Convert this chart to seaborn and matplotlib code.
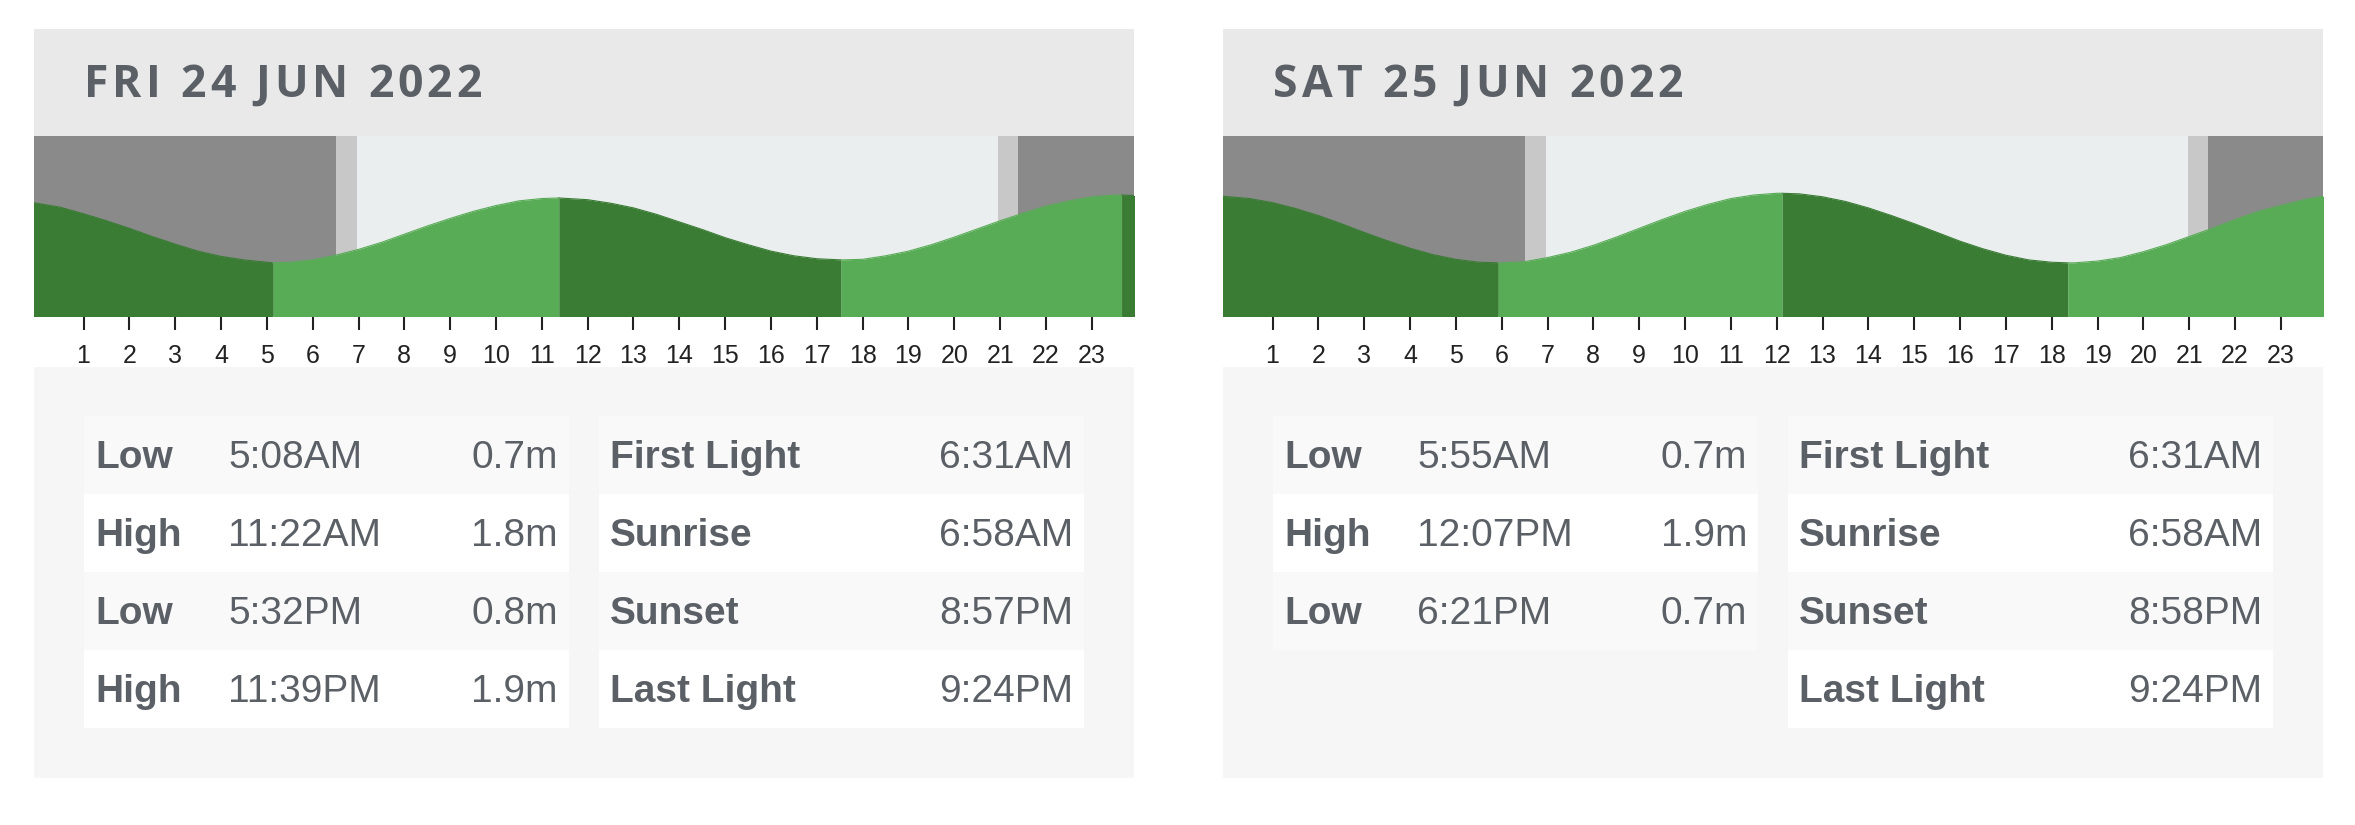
import numpy as np
import pandas as pd
import matplotlib
matplotlib.use("Agg")
import matplotlib.pyplot as plt
from matplotlib.patches import Rectangle
import seaborn as sns

# --- data ---
dates = ["FRI 24 JUN 2022", "SAT 25 JUN 2022"]

tide_type1 = ["Low", "High", "Low", "High"]
tide_time1 = ["5:08AM", "11:22AM", "5:32PM", "11:39PM"]
tide_height1 = ["0.7m", "1.8m", "0.8m", "1.9m"]
tide_type2 = ["Low", "High", "Low"]
tide_time2 = ["5:55AM", "12:07PM", "6:21PM"]
tide_height2 = ["0.7m", "1.9m", "0.7m"]

sun_labels = ["First Light", "Sunrise", "Sunset", "Last Light"]
sun_time1 = ["6:31AM", "6:58AM", "8:57PM", "9:24PM"]
sun_time2 = ["6:31AM", "6:58AM", "8:58PM", "9:24PM"]

# tide level (m), every half hour plus the turning points
curve_hours1 = [-0.1, 0.5, 1, 1.5, 2, 2.5, 3, 3.5, 4, 4.5, 5, 5.13,
                5.5, 6, 6.5, 7, 7.5, 8, 8.5, 9, 9.5, 10, 10.5, 11, 11.37,
                12, 12.5, 13, 13.5, 14, 14.5, 15, 15.5, 16, 16.5, 17, 17.53,
                18, 18.5, 19, 19.5, 20, 20.5, 21, 21.5, 22, 22.5, 23, 23.5, 23.65, 24]
curve_level1 = [1.73, 1.65, 1.54, 1.42, 1.29, 1.15, 1.02, 0.90, 0.81, 0.75, 0.71, 0.70,
                0.71, 0.75, 0.83, 0.93, 1.05, 1.19, 1.33, 1.46, 1.58, 1.68, 1.76, 1.80, 1.81,
                1.78, 1.72, 1.64, 1.53, 1.40, 1.27, 1.13, 1.01, 0.90, 0.82, 0.77, 0.75,
                0.76, 0.82, 0.90, 1.01, 1.14, 1.28, 1.42, 1.55, 1.67, 1.76, 1.83, 1.86, 1.86, 1.85]
curve_hours2 = [-0.1, 0.5, 1, 1.5, 2, 2.5, 3, 3.5, 4, 4.5, 5, 5.5, 5.92,
                6, 6.5, 7, 7.5, 8, 8.5, 9, 9.5, 10, 10.5, 11, 11.5, 12, 12.12,
                12.5, 13, 13.5, 14, 14.5, 15, 15.5, 16, 16.5, 17, 17.5, 18, 18.35,
                18.5, 19, 19.5, 20, 20.5, 21, 21.5, 22, 22.5, 23, 23.5, 24]
curve_level2 = [1.84, 1.80, 1.73, 1.63, 1.51, 1.37, 1.22, 1.08, 0.95, 0.84, 0.76, 0.71, 0.70,
                0.70, 0.72, 0.79, 0.88, 1.00, 1.14, 1.29, 1.44, 1.58, 1.70, 1.80, 1.86, 1.89, 1.89,
                1.88, 1.83, 1.75, 1.64, 1.51, 1.37, 1.22, 1.07, 0.94, 0.83, 0.75, 0.71, 0.70,
                0.70, 0.73, 0.79, 0.89, 1.01, 1.15, 1.29, 1.44, 1.58, 1.68, 1.78, 1.85]

days = [
    dict(date=dates[0], types=tide_type1, times=tide_time1, heights=tide_height1,
         sun=sun_time1, hours=curve_hours1, level=curve_level1),
    dict(date=dates[1], types=tide_type2, times=tide_time2, heights=tide_height2,
         sun=sun_time2, hours=curve_hours2, level=curve_level2),
]

# colours
TEXT = "#5b6067"
HEADER_BG = "#e9e9e9"
TABLE_BG = "#f6f6f6"
ROW_A = "#f9f9f9"
ROW_B = "#ffffff"
NIGHT = "#8a8a8a"
TWILIGHT = "#c8c8c8"
DAY = "#ebeeef"
FALLING = "#3a7c34"
RISING = "#58ac56"


def to_hours(s):
    h, m = s[:-2].split(":")
    return int(h) % 12 + (12 if s.endswith("PM") else 0) + int(m) / 60


sns.set_theme(style="white")
plt.rcParams["font.family"] = ["Liberation Sans", "DejaVu Sans"]

W, H = 2355, 825
fig = plt.figure(figsize=(W / 100, H / 100), dpi=100, facecolor="white")
bg = fig.add_axes([0, 0, 1, 1])
bg.set_xlim(0, W)
bg.set_ylim(H, 0)
bg.axis("off")
renderer = fig.canvas.get_renderer()


def spaced_text(x, y, s, spacing, **kw):
    # letter-spaced heading, one glyph at a time
    for ch in s:
        if ch == " ":
            x += 12 + spacing
            continue
        t = bg.text(x, y, ch, **kw)
        x += t.get_window_extent(renderer=renderer).width + spacing


panel_x = [34, 1223]
panel_w = 1100
chart_top, chart_bot = 136, 316
row_top0, row_h = 416, 78

for px, d in zip(panel_x, days):
    # header
    bg.add_patch(Rectangle((px, 29), panel_w, chart_top - 29, color=HEADER_BG, lw=0))
    spaced_text(px + 50, 97, d["date"], 4, fontsize=32, fontweight="bold",
                family="Open Sans", color=TEXT, va="baseline")

    # table area
    bg.add_patch(Rectangle((px, 367), panel_w, 778 - 367, color=TABLE_BG, lw=0))
    lt0, lt1 = px + 50, px + 535
    rt0, rt1 = px + 565, px + 1050
    for i, (tp, tm, ht) in enumerate(zip(d["types"], d["times"], d["heights"])):
        y0 = row_top0 + i * row_h
        bg.add_patch(Rectangle((lt0, y0), lt1 - lt0, row_h, color=ROW_A if i % 2 == 0 else ROW_B, lw=0))
        base = y0 + 52
        bg.text(lt0 + 11, base, tp, fontsize=28, fontweight="bold", color=TEXT, va="baseline")
        bg.text(lt0 + 144, base, tm, fontsize=28, color=TEXT, va="baseline")
        bg.text(lt1 - 11, base, ht, fontsize=28, color=TEXT, va="baseline", ha="right")
    for i, (lab, tm) in enumerate(zip(sun_labels, d["sun"])):
        y0 = row_top0 + i * row_h
        bg.add_patch(Rectangle((rt0, y0), rt1 - rt0, row_h, color=ROW_A if i % 2 == 0 else ROW_B, lw=0))
        base = y0 + 52
        bg.text(rt0 + 11, base, lab, fontsize=28, fontweight="bold", color=TEXT, va="baseline")
        bg.text(rt1 - 11, base, tm, fontsize=28, color=TEXT, va="baseline", ha="right")

    # tide chart
    ax = fig.add_axes([px / W, 1 - chart_bot / H, panel_w / W, (chart_bot - chart_top) / H])
    x0, x1 = -0.08, 23.92
    y0, y1 = -0.21, 2.87
    fl, sr, ss, ll = [to_hours(s) for s in d["sun"]]
    ax.axvspan(x0, fl, color=NIGHT, lw=0)
    ax.axvspan(fl, sr, color=TWILIGHT, lw=0)
    ax.axvspan(sr, ss, color=DAY, lw=0)
    ax.axvspan(ss, ll, color=TWILIGHT, lw=0)
    ax.axvspan(ll, x1, color=NIGHT, lw=0)

    df = pd.DataFrame({"hour": d["hours"], "level": d["level"]})
    edges = [df.hour.iloc[0]] + [round(to_hours(s), 2) for s in d["times"]] + [df.hour.iloc[-1]]
    for a, b in zip(edges[:-1], edges[1:]):
        seg = df[(df.hour >= a - 1e-6) & (df.hour <= b + 1e-6)]
        col = FALLING if seg.level.iloc[0] > seg.level.iloc[-1] else RISING
        ax.fill_between(seg.hour, seg.level, y0 - 1, color=col, lw=0)
        sns.lineplot(data=seg, x="hour", y="level", ax=ax, color=col, lw=0.8, sort=False)

    ax.set_xlim(x0, x1)
    ax.set_ylim(y0, y1)
    ax.set_xticks(range(1, 24))
    ax.set_yticks([])
    ax.set_xlabel("")
    ax.set_ylabel("")
    for sp in ax.spines.values():
        sp.set_visible(False)
    ax.tick_params(axis="x", bottom=True, direction="out", length=10, width=1.5,
                   color="#222222", labelcolor="#222222", labelsize=18, pad=10)

fig.savefig("out.png", dpi=100, facecolor="white")
